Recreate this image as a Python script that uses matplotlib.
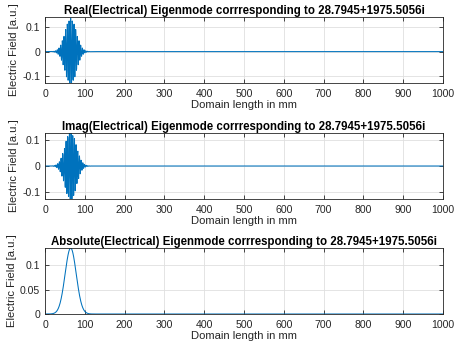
import numpy as np
import matplotlib
matplotlib.use("Agg")
import matplotlib.pyplot as plt

# ---- data ----
eigenvalue = "28.7945+1975.5056i"
domain_mm = (0, 1000)
peak_position_mm = 64.5      # centre of the mode
peak_amplitude = 0.135       # |E| maximum
envelope_sigma_mm = 14.0     # gaussian width of |E|
carrier_period_mm = 4.2      # oscillation period of Re/Im
sample_step_mm = 0.5

x_ticks = [0, 100, 200, 300, 400, 500, 600, 700, 800, 900, 1000]
y_ticks_ri = [-0.1, 0, 0.1]
y_ticks_abs = [0, 0.05, 0.1]
ylim_real = (-0.127, 0.14)
ylim_imag = (-0.128, 0.128)
ylim_abs = (0, 0.135)

titles = ["Real(Electrical) Eigenmode corrresponding to " + eigenvalue,
          "Imag(Electrical) Eigenmode corrresponding to " + eigenvalue,
          "Absolute(Electrical) Eigenmode corrresponding to " + eigenvalue]

x = np.arange(domain_mm[0], domain_mm[1] + sample_step_mm, sample_step_mm)
env = peak_amplitude * np.exp(-0.5 * ((x - peak_position_mm) / envelope_sigma_mm) ** 2)
phase = 2 * np.pi * (x - peak_position_mm) / carrier_period_mm
field = env * np.exp(1j * phase)
series = [field.real, field.imag, np.abs(field)]

plt.rcParams['font.family'] = ['Liberation Sans', 'DejaVu Sans']
fig = plt.figure(figsize=(4.65, 3.47), dpi=100)
W, H = 465, 347
boxes = [(17, 83), (133, 199), (248, 314)]
ylims = [ylim_real, ylim_imag, ylim_abs]
yticks = [y_ticks_ri, y_ticks_ri, y_ticks_abs]
ytl = [["-0.1", "0", "0.1"], ["-0.1", "0", "0.1"], ["0", "0.05", "0.1"]]
dark = "#262626"
for i, (top, bot) in enumerate(boxes):
    ax = fig.add_axes([45 / W, (H - bot) / H, (443 - 45) / W, (bot - top) / H])
    ax.plot(x, series[i], color="#0072BD", lw=0.75)
    ax.set_xlim(*domain_mm)
    ax.set_ylim(*ylims[i])
    ax.set_xticks(x_ticks)
    ax.set_yticks(yticks[i])
    ax.set_yticklabels(ytl[i])
    ax.grid(True, color="#dfdfdf", lw=0.6)
    ax.set_axisbelow(True)
    ax.tick_params(direction="in", length=3, width=0.6, colors=dark, labelsize=7.6,
                   top=True, right=True)
    ax.tick_params(axis="x", pad=4.5)
    ax.tick_params(axis="y", pad=3.5)
    for s in ax.spines.values():
        s.set_color(dark)
        s.set_linewidth(0.6)
    ax.set_title(titles[i], fontsize=8.3, fontweight="bold", color="black", pad=2)
    ax.set_xlabel("Domain length in mm", fontsize=8.1, color=dark, labelpad=0.5)
    ax.set_ylabel("Electric Field [a.u.]", fontsize=8.1, color=dark, labelpad=2)

fig.savefig("out.png", dpi=100)
